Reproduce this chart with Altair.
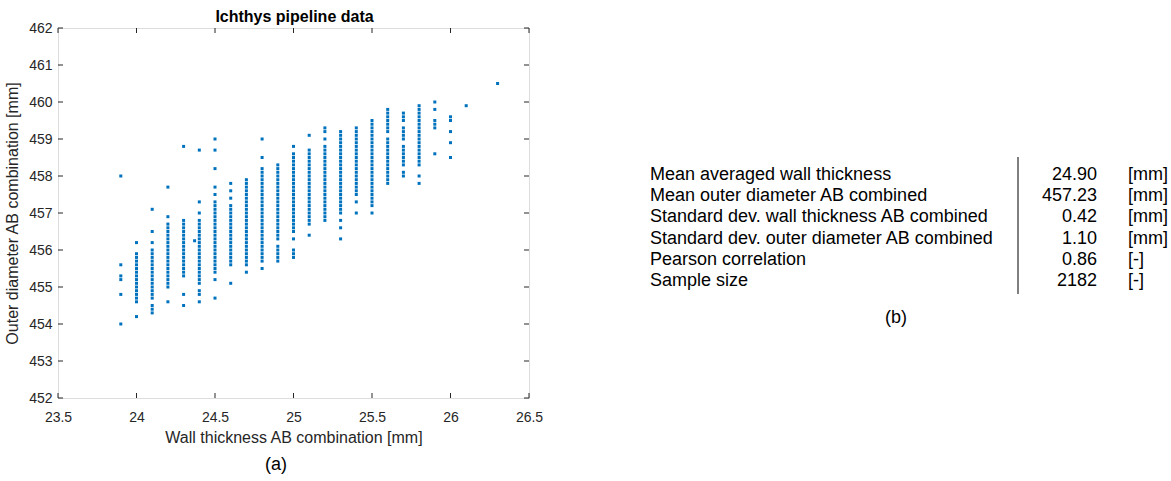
import altair as alt
import pandas as pd

# ---------------- data ----------------
wall_values = [23.9, 24.0, 24.1, 24.2, 24.3, 24.4, 24.5, 24.6, 24.7, 24.8, 24.9,
               25.0, 25.1, 25.2, 25.3, 25.4, 25.5, 25.6, 25.7, 25.8, 25.9, 26.0, 26.1, 26.3]

diameter_by_wall = [
    [458.0, 455.6, 455.3, 455.2, 454.8, 454.0],
    [456.2, 455.9, 455.8, 455.7, 455.6, 455.5, 455.4, 455.3, 455.2, 455.1, 455.0, 454.9, 454.8, 454.7, 454.6, 454.2],
    [457.1, 456.5, 456.2, 456.0, 455.9, 455.8, 455.7, 455.6, 455.5, 455.4, 455.3, 455.2, 455.1, 455.0, 454.9, 454.8, 454.7, 454.5, 454.4, 454.3],
    [457.7, 456.9, 456.7, 456.6, 456.5, 456.4, 456.3, 456.2, 456.1, 456.0, 455.9, 455.8, 455.7, 455.6, 455.5, 455.4, 455.3, 455.2, 455.1, 455.0, 454.6],
    [458.8, 456.8, 456.7, 456.6, 456.5, 456.4, 456.3, 456.2, 456.1, 456.0, 455.9, 455.8, 455.7, 455.6, 455.5, 455.4, 455.3, 454.8, 454.5],
    [458.7, 457.3, 457.0, 456.8, 456.7, 456.6, 456.5, 456.4, 456.3, 456.2, 456.1, 456.0, 455.9, 455.8, 455.7, 455.6, 455.5, 455.4, 455.3, 455.2, 455.1, 454.9, 454.8, 454.6],
    [459.0, 458.7, 458.2, 457.7, 457.5, 457.3, 457.2, 457.1, 457.0, 456.9, 456.8, 456.7, 456.6, 456.5, 456.4, 456.3, 456.2, 456.1, 456.0, 455.9, 455.8, 455.7, 455.6, 455.5, 455.4, 455.2, 454.7],
    [457.8, 457.6, 457.4, 457.2, 457.1, 457.0, 456.9, 456.8, 456.7, 456.6, 456.5, 456.4, 456.3, 456.2, 456.1, 456.0, 455.9, 455.8, 455.7, 455.6, 455.1],
    [457.9, 457.8, 457.7, 457.6, 457.5, 457.4, 457.3, 457.2, 457.1, 457.0, 456.9, 456.8, 456.7, 456.6, 456.5, 456.4, 456.3, 456.2, 456.1, 456.0, 455.9, 455.8, 455.7, 455.6, 455.4],
    [459.0, 458.5, 458.2, 458.1, 458.0, 457.9, 457.8, 457.7, 457.6, 457.5, 457.4, 457.3, 457.2, 457.1, 457.0, 456.9, 456.8, 456.7, 456.6, 456.5, 456.4, 456.3, 456.2, 456.1, 456.0, 455.9, 455.8, 455.7, 455.5],
    [458.3, 458.2, 458.1, 458.0, 457.9, 457.8, 457.7, 457.6, 457.5, 457.4, 457.3, 457.2, 457.1, 457.0, 456.9, 456.8, 456.7, 456.6, 456.5, 456.4, 456.3, 456.1, 456.0, 455.9, 455.8, 455.7],
    [458.8, 458.6, 458.5, 458.4, 458.3, 458.2, 458.1, 458.0, 457.9, 457.8, 457.7, 457.6, 457.5, 457.4, 457.3, 457.2, 457.1, 457.0, 456.9, 456.8, 456.7, 456.6, 456.5, 456.3, 456.0, 455.9, 455.8],
    [459.1, 458.7, 458.6, 458.5, 458.4, 458.3, 458.2, 458.1, 458.0, 457.9, 457.8, 457.7, 457.6, 457.5, 457.4, 457.3, 457.2, 457.1, 457.0, 456.9, 456.8, 456.7, 456.4],
    [459.3, 459.2, 459.0, 458.8, 458.7, 458.6, 458.5, 458.4, 458.3, 458.2, 458.1, 458.0, 457.9, 457.8, 457.7, 457.6, 457.5, 457.4, 457.3, 457.2, 457.1, 457.0, 456.9, 456.8],
    [459.2, 459.1, 459.0, 458.9, 458.8, 458.7, 458.6, 458.5, 458.4, 458.3, 458.2, 458.1, 458.0, 457.9, 457.8, 457.7, 457.6, 457.5, 457.4, 457.3, 457.2, 457.1, 457.0, 456.8, 456.6, 456.3],
    [459.3, 459.2, 459.1, 459.0, 458.9, 458.8, 458.7, 458.6, 458.5, 458.4, 458.3, 458.2, 458.1, 458.0, 457.9, 457.8, 457.7, 457.6, 457.5, 457.3, 457.0],
    [459.5, 459.4, 459.3, 459.2, 459.1, 459.0, 458.9, 458.8, 458.7, 458.6, 458.5, 458.4, 458.3, 458.2, 458.1, 458.0, 457.9, 457.8, 457.7, 457.6, 457.5, 457.4, 457.3, 457.2, 457.0],
    [459.8, 459.7, 459.6, 459.5, 459.4, 459.3, 459.2, 459.0, 458.9, 458.8, 458.7, 458.6, 458.5, 458.4, 458.3, 458.2, 458.1, 458.0, 457.9, 457.8],
    [459.7, 459.6, 459.5, 459.3, 459.2, 459.1, 459.0, 458.8, 458.7, 458.6, 458.5, 458.4, 458.3, 458.1, 458.0],
    [459.9, 459.8, 459.7, 459.6, 459.5, 459.4, 459.3, 459.2, 459.1, 459.0, 458.9, 458.8, 458.7, 458.6, 458.5, 458.4, 458.3, 458.0, 457.8],
    [460.0, 459.8, 459.5, 459.4, 459.3, 458.6],
    [459.6, 459.5, 459.2, 458.9, 458.5],
    [459.9],
    [460.5],
]
extra_wall = [24.37]
extra_diameter = [456.25]

x_ticks = [23.5, 24.0, 24.5, 25.0, 25.5, 26.0, 26.5]
y_ticks = [452, 453, 454, 455, 456, 457, 458, 459, 460, 461, 462]

chart_title = "Ichthys pipeline data"
x_title = "Wall thickness AB combination [mm]"
y_title = "Outer diameter AB combination [mm]"

table_labels = ["Mean averaged wall thickness",
                "Mean outer diameter AB combined",
                "Standard dev. wall thickness AB combined",
                "Standard dev. outer diameter AB combined",
                "Pearson correlation",
                "Sample size"]
table_values = ["24.90", "457.23", "0.42", "1.10", "0.86", "2182"]
table_units = ["[mm]", "[mm]", "[mm]", "[mm]", "[-]", "[-]"]
captions = ["(a)", "(b)"]

# ---------------- build tables ----------------
rows = []
for w, ds in zip(wall_values, diameter_by_wall):
    for d in ds:
        rows.append({"wall": w, "diam": d})
for w, d in zip(extra_wall, extra_diameter):
    rows.append({"wall": w, "diam": d})
pts = pd.DataFrame(rows)

tbl = pd.DataFrame({"row": list(range(len(table_labels))),
                    "label": table_labels, "value": table_values, "unit": table_units})

W, H = 471, 370
FONT = "Liberation Sans"
AX = "#262626"
BLUE = "#0072BD"

xscale = alt.Scale(domain=[23.5, 26.5], nice=False, zero=False)
yscale = alt.Scale(domain=[452, 462], nice=False, zero=False)

x_axis = alt.Axis(values=x_ticks, format="~g", title=x_title,
                  ticks=False, domain=False, grid=False, labelFontSize=14, labelFlush=False,
                  labelColor=AX, labelPadding=12, titleFontSize=16, titleColor=AX,
                  titleFontWeight="normal", titlePadding=5, labelFont=FONT, titleFont=FONT)
y_axis = alt.Axis(values=y_ticks, format="d", title=y_title,
                  ticks=False, domain=False, grid=False, labelFontSize=14, labelFlush=False,
                  labelColor=AX, labelPadding=6, titleFontSize=16, titleColor=AX,
                  titleFontWeight="normal", titlePadding=8, labelFont=FONT, titleFont=FONT)

scatter = alt.Chart(pts).mark_square(size=9, color=BLUE, opacity=1).encode(
    x=alt.X("wall:Q", scale=xscale, axis=x_axis),
    y=alt.Y("diam:Q", scale=yscale, axis=y_axis),
)

xt = pd.DataFrame({"t": x_ticks})
yt = pd.DataFrame({"t": y_ticks})
tick_len = 5
bottom_ticks = alt.Chart(xt).mark_rule(color=AX, strokeWidth=1).encode(
    x=alt.X("t:Q", scale=xscale, axis=x_axis), y=alt.value(H), y2=alt.value(H - tick_len))
top_ticks = alt.Chart(xt).mark_rule(color=AX, strokeWidth=1).encode(
    x=alt.X("t:Q", scale=xscale, axis=x_axis), y=alt.value(0), y2=alt.value(tick_len))
left_ticks = alt.Chart(yt).mark_rule(color=AX, strokeWidth=1).encode(
    y=alt.Y("t:Q", scale=yscale, axis=None), x=alt.value(0), x2=alt.value(tick_len))
right_ticks = alt.Chart(yt).mark_rule(color=AX, strokeWidth=1).encode(
    y=alt.Y("t:Q", scale=yscale, axis=None), x=alt.value(W), x2=alt.value(W - tick_len))

title_mark = alt.Chart(pd.DataFrame({"t": [chart_title]})).mark_text(
    fontSize=16, font=FONT, fontWeight="bold", color="black", align="center", baseline="alphabetic").encode(
    text="t:N", x=alt.value(W / 2 + 1), y=alt.value(-6))

# table panel (b)
TFS = 18
row_scale = alt.Scale(domain=[0, len(table_labels) - 1], range=[147, 253], nice=False, zero=False)
tbase = alt.Chart(tbl).encode(y=alt.Y("row:Q", scale=row_scale, axis=None))
t_labels = tbase.mark_text(align="left", baseline="middle", fontSize=TFS, font=FONT, color="black").encode(
    x=alt.value(592), text="label:N")
t_values = tbase.mark_text(align="right", baseline="middle", fontSize=TFS, font=FONT, color="black").encode(
    x=alt.value(1039), text="value:N")
t_units = tbase.mark_text(align="left", baseline="middle", fontSize=TFS, font=FONT, color="black").encode(
    x=alt.value(1070), text="unit:N")
t_line = alt.Chart(pd.DataFrame({"a": [0]})).mark_rule(color="black", strokeWidth=1).encode(
    x=alt.value(960), y=alt.value(129), y2=alt.value(266))

cap = pd.DataFrame({"c": captions})
cap_a = alt.Chart(cap).transform_filter("datum.c == '(a)'").mark_text(
    fontSize=18, font=FONT, color="black", align="center", baseline="middle").encode(
    text="c:N", x=alt.value(218), y=alt.value(437))
cap_b = alt.Chart(cap).transform_filter("datum.c == '(b)'").mark_text(
    fontSize=18, font=FONT, color="black", align="center", baseline="middle").encode(
    text="c:N", x=alt.value(838), y=alt.value(290))

chart = alt.layer(
    scatter, bottom_ticks, top_ticks, left_ticks, right_ticks, title_mark,
    t_labels, t_values, t_units, t_line, cap_a, cap_b
).resolve_scale(y="independent").properties(
    width=W, height=H,
    autosize=alt.AutoSizeParams(type="none"),
    padding={"left": 58, "top": 28, "right": 642, "bottom": 83},
).configure_view(stroke=AX, strokeWidth=1).configure(background="white")

chart.save("out.html", embed_options={"renderer": "svg", "actions": False})
